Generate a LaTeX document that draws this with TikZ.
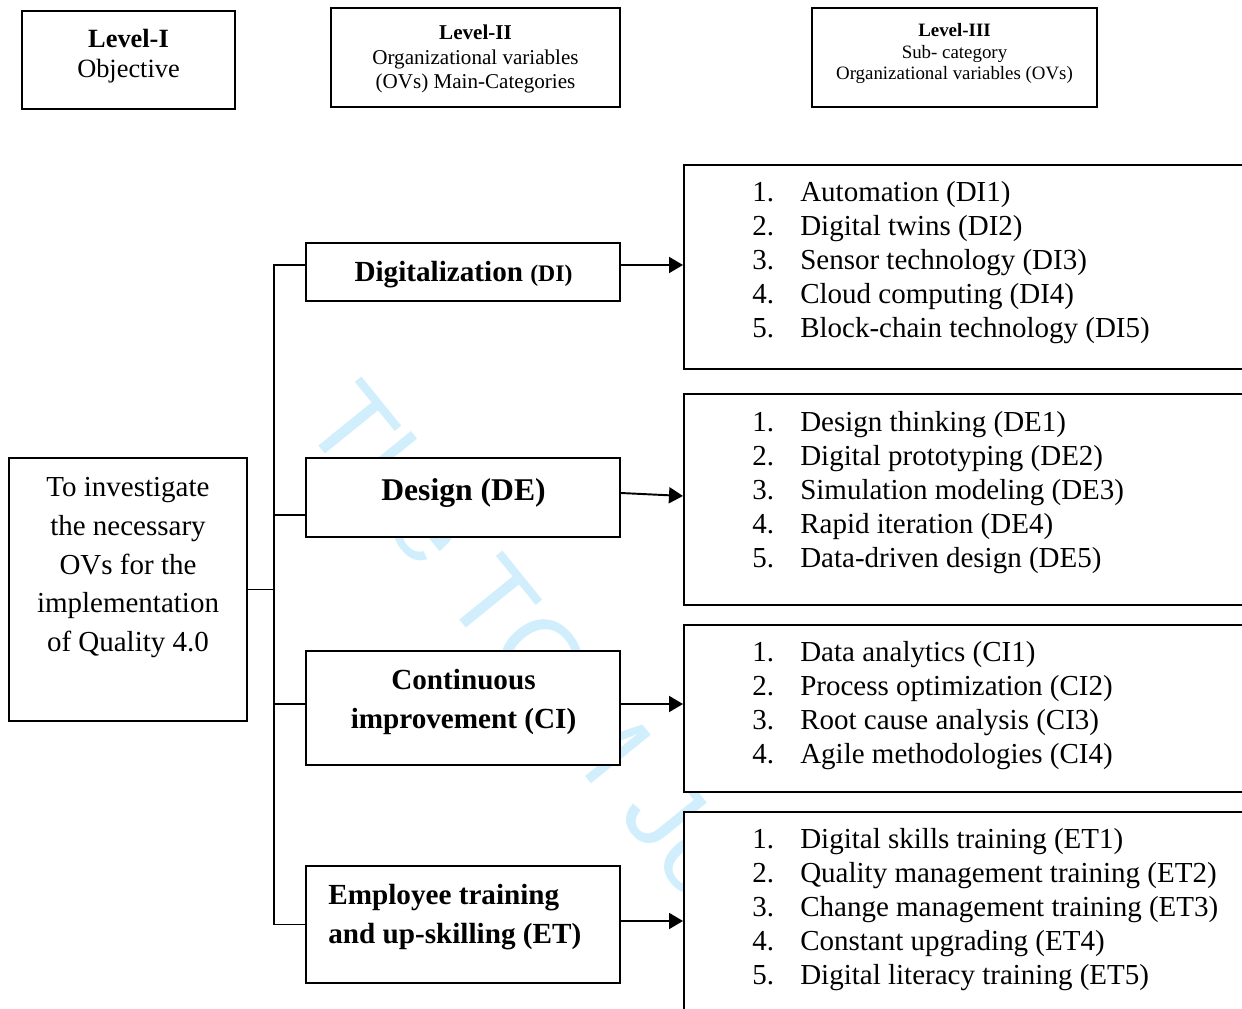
\documentclass[tikz,border=0pt]{standalone}
\usepackage{fontspec}
\setmainfont{Liberation Serif}
\newfontfamily\wmfont{Liberation Sans}
\usetikzlibrary{arrows.meta}
\definecolor{wmblue}{RGB}{208,238,252}
\newcommand{\numitem}[2]{\strut\makebox[27.3pt][l]{#1.}#2}
\tikzset{
  box/.style={draw, fill=white, line width=1.1pt, inner sep=0pt},
  catbox/.style={box, minimum width=6.28cm},
  subbox/.style={box, anchor=north west, minimum width=12.4cm},
  conn/.style={line width=1.1pt},
  arr/.style={line width=1.1pt, -{Triangle[length=2.8mm,width=3.2mm]}},
  cattext/.style={inner sep=0pt, font=\bfseries\fontsize{16.6}{22}\selectfont},
  subtext/.style={anchor=north west, align=left, inner sep=0pt,
    font=\fontsize{16.5}{19.35}\selectfont},
}
\begin{document}
\begin{tikzpicture}
  \useasboundingbox (0,0) rectangle (24.84,-20.18);
  \clip (0,0) rectangle (24.84,-20.18);
  % watermark
  \node[wmblue, anchor=base west, inner sep=0pt, rotate=-51,
    font=\wmfont\fontsize{63.7}{70}\selectfont] (wm) at (6.0,-8.46) {The TQM Journal};
  % level headers
  \node[box, minimum width=4.26cm, minimum height=1.96cm] (lvone) at (2.57,-1.2) {};
  \node[box, minimum width=5.78cm, minimum height=1.98cm] (lvtwo) at (9.51,-1.15) {};
  \node[box, minimum width=5.7cm, minimum height=1.98cm] (lvthree) at (19.09,-1.15) {};
  \node[anchor=north, align=center, inner sep=0pt, font=\fontsize{15}{17}\selectfont]
    (lvonetxt) at (2.57,-0.52) {\strut\textbf{Level-I}\\Objective};
  \node[anchor=north, align=center, inner sep=0pt, font=\fontsize{12}{14}\selectfont]
    (lvtwotxt) at (9.51,-0.44) {\strut\textbf{Level-II}\\Organizational variables\\(OVs) Main-Categories};
  \node[anchor=north, align=center, inner sep=0pt, font=\fontsize{10.75}{12.2}\selectfont]
    (lvthreetxt) at (19.09,-0.43) {\strut\textbf{Level-III}\\Sub- category\\Organizational variables (OVs)};
  % objective
  \node[box, minimum width=4.76cm, minimum height=5.26cm] (obj) at (2.56,-11.79) {};
  \node[anchor=north, align=center, inner sep=0pt, font=\fontsize{16.5}{22}\selectfont]
    (objtxt) at (2.56,-9.39) {\strut To investigate\\the necessary\\OVs for the\\implementation\\of Quality 4.0};
  % main categories
  \node[catbox, minimum height=1.16cm] (di) at (9.26,-5.44) {};
  \node[catbox, minimum height=1.58cm] (de) at (9.26,-9.95) {};
  \node[catbox, minimum height=2.28cm] (ci) at (9.26,-14.16) {};
  \node[catbox, minimum height=2.34cm] (et) at (9.26,-18.49) {};
  \node[cattext, anchor=base] (ditxt) at (9.27,-5.63)
    {Digitalization {\fontsize{13.5}{15}\selectfont(DI)}};
  \node[cattext, anchor=base, font=\bfseries\fontsize{18}{22}\selectfont] (detxt) at (9.27,-10.01) {Design (DE)};
  \node[cattext, anchor=north, align=center] (citxt) at (9.27,-13.25)
    {\strut Continuous\\improvement (CI)};
  \node[cattext, anchor=north west, align=left] (ettxt) at (6.56,-17.55)
    {\strut Employee training\\and up-skilling (ET)};
  % sub-categories
  \node[subbox, minimum height=4.08cm] (disub) at (13.66,-3.28) {};
  \node[subbox, minimum height=4.22cm] (desub) at (13.66,-7.86) {};
  \node[subbox, minimum height=3.34cm] (cisub) at (13.66,-12.48) {};
  \node[subbox, minimum height=4.6cm] (etsub) at (13.66,-16.22) {};
  \node[subtext] (dilist) at (15.04,-3.54) {\numitem{1}{Automation (DI1)}\\
    \numitem{2}{Digital twins (DI2)}\\\numitem{3}{Sensor technology (DI3)}\\
    \numitem{4}{Cloud computing (DI4)}\\\numitem{5}{Block-chain technology (DI5)}};
  \node[subtext] (delist) at (15.04,-8.14) {\numitem{1}{Design thinking (DE1)}\\
    \numitem{2}{Digital prototyping (DE2)}\\\numitem{3}{Simulation modeling (DE3)}\\
    \numitem{4}{Rapid iteration (DE4)}\\\numitem{5}{Data-driven design (DE5)}};
  \node[subtext] (cilist) at (15.04,-12.74) {\numitem{1}{Data analytics (CI1)}\\
    \numitem{2}{Process optimization (CI2)}\\\numitem{3}{Root cause analysis (CI3)}\\
    \numitem{4}{Agile methodologies (CI4)}};
  \node[subtext] (etlist) at (15.04,-16.48) {\numitem{1}{Digital skills training (ET1)}\\
    \numitem{2}{Quality management training (ET2)}\\\numitem{3}{Change management training (ET3)}\\
    \numitem{4}{Constant upgrading (ET4)}\\\numitem{5}{Digital literacy training (ET5)}};
  % tree connectors
  \coordinate (hub) at ([xshift=5.2mm]obj.east);
  \coordinate (dib) at ([yshift=1.4mm]di.west);
  \coordinate (deb) at ([yshift=-3.5mm]de.west);
  \coordinate (cib) at ([yshift=0.8mm]ci.west);
  \coordinate (eta) at ([yshift=0.7mm]et.east);
  \draw[conn] (obj.east) -- (hub);
  \draw[conn] (dib) -| (hub);
  \draw[conn] (et.west) -| (hub);
  \draw[conn] (deb) -- (deb -| hub);
  \draw[conn] (cib) -- (cib -| hub);
  % arrows to sub-categories
  \draw[arr] (di.east |- dib) -- (disub.west |- dib);
  \draw[arr] ([yshift=0.9mm]de.east) -- ([yshift=0.7mm]desub.west);
  \draw[arr] (ci.east |- cib) -- (cisub.west |- cib);
  \draw[arr] (eta) -- (etsub.west |- eta);
\end{tikzpicture}
\end{document}
